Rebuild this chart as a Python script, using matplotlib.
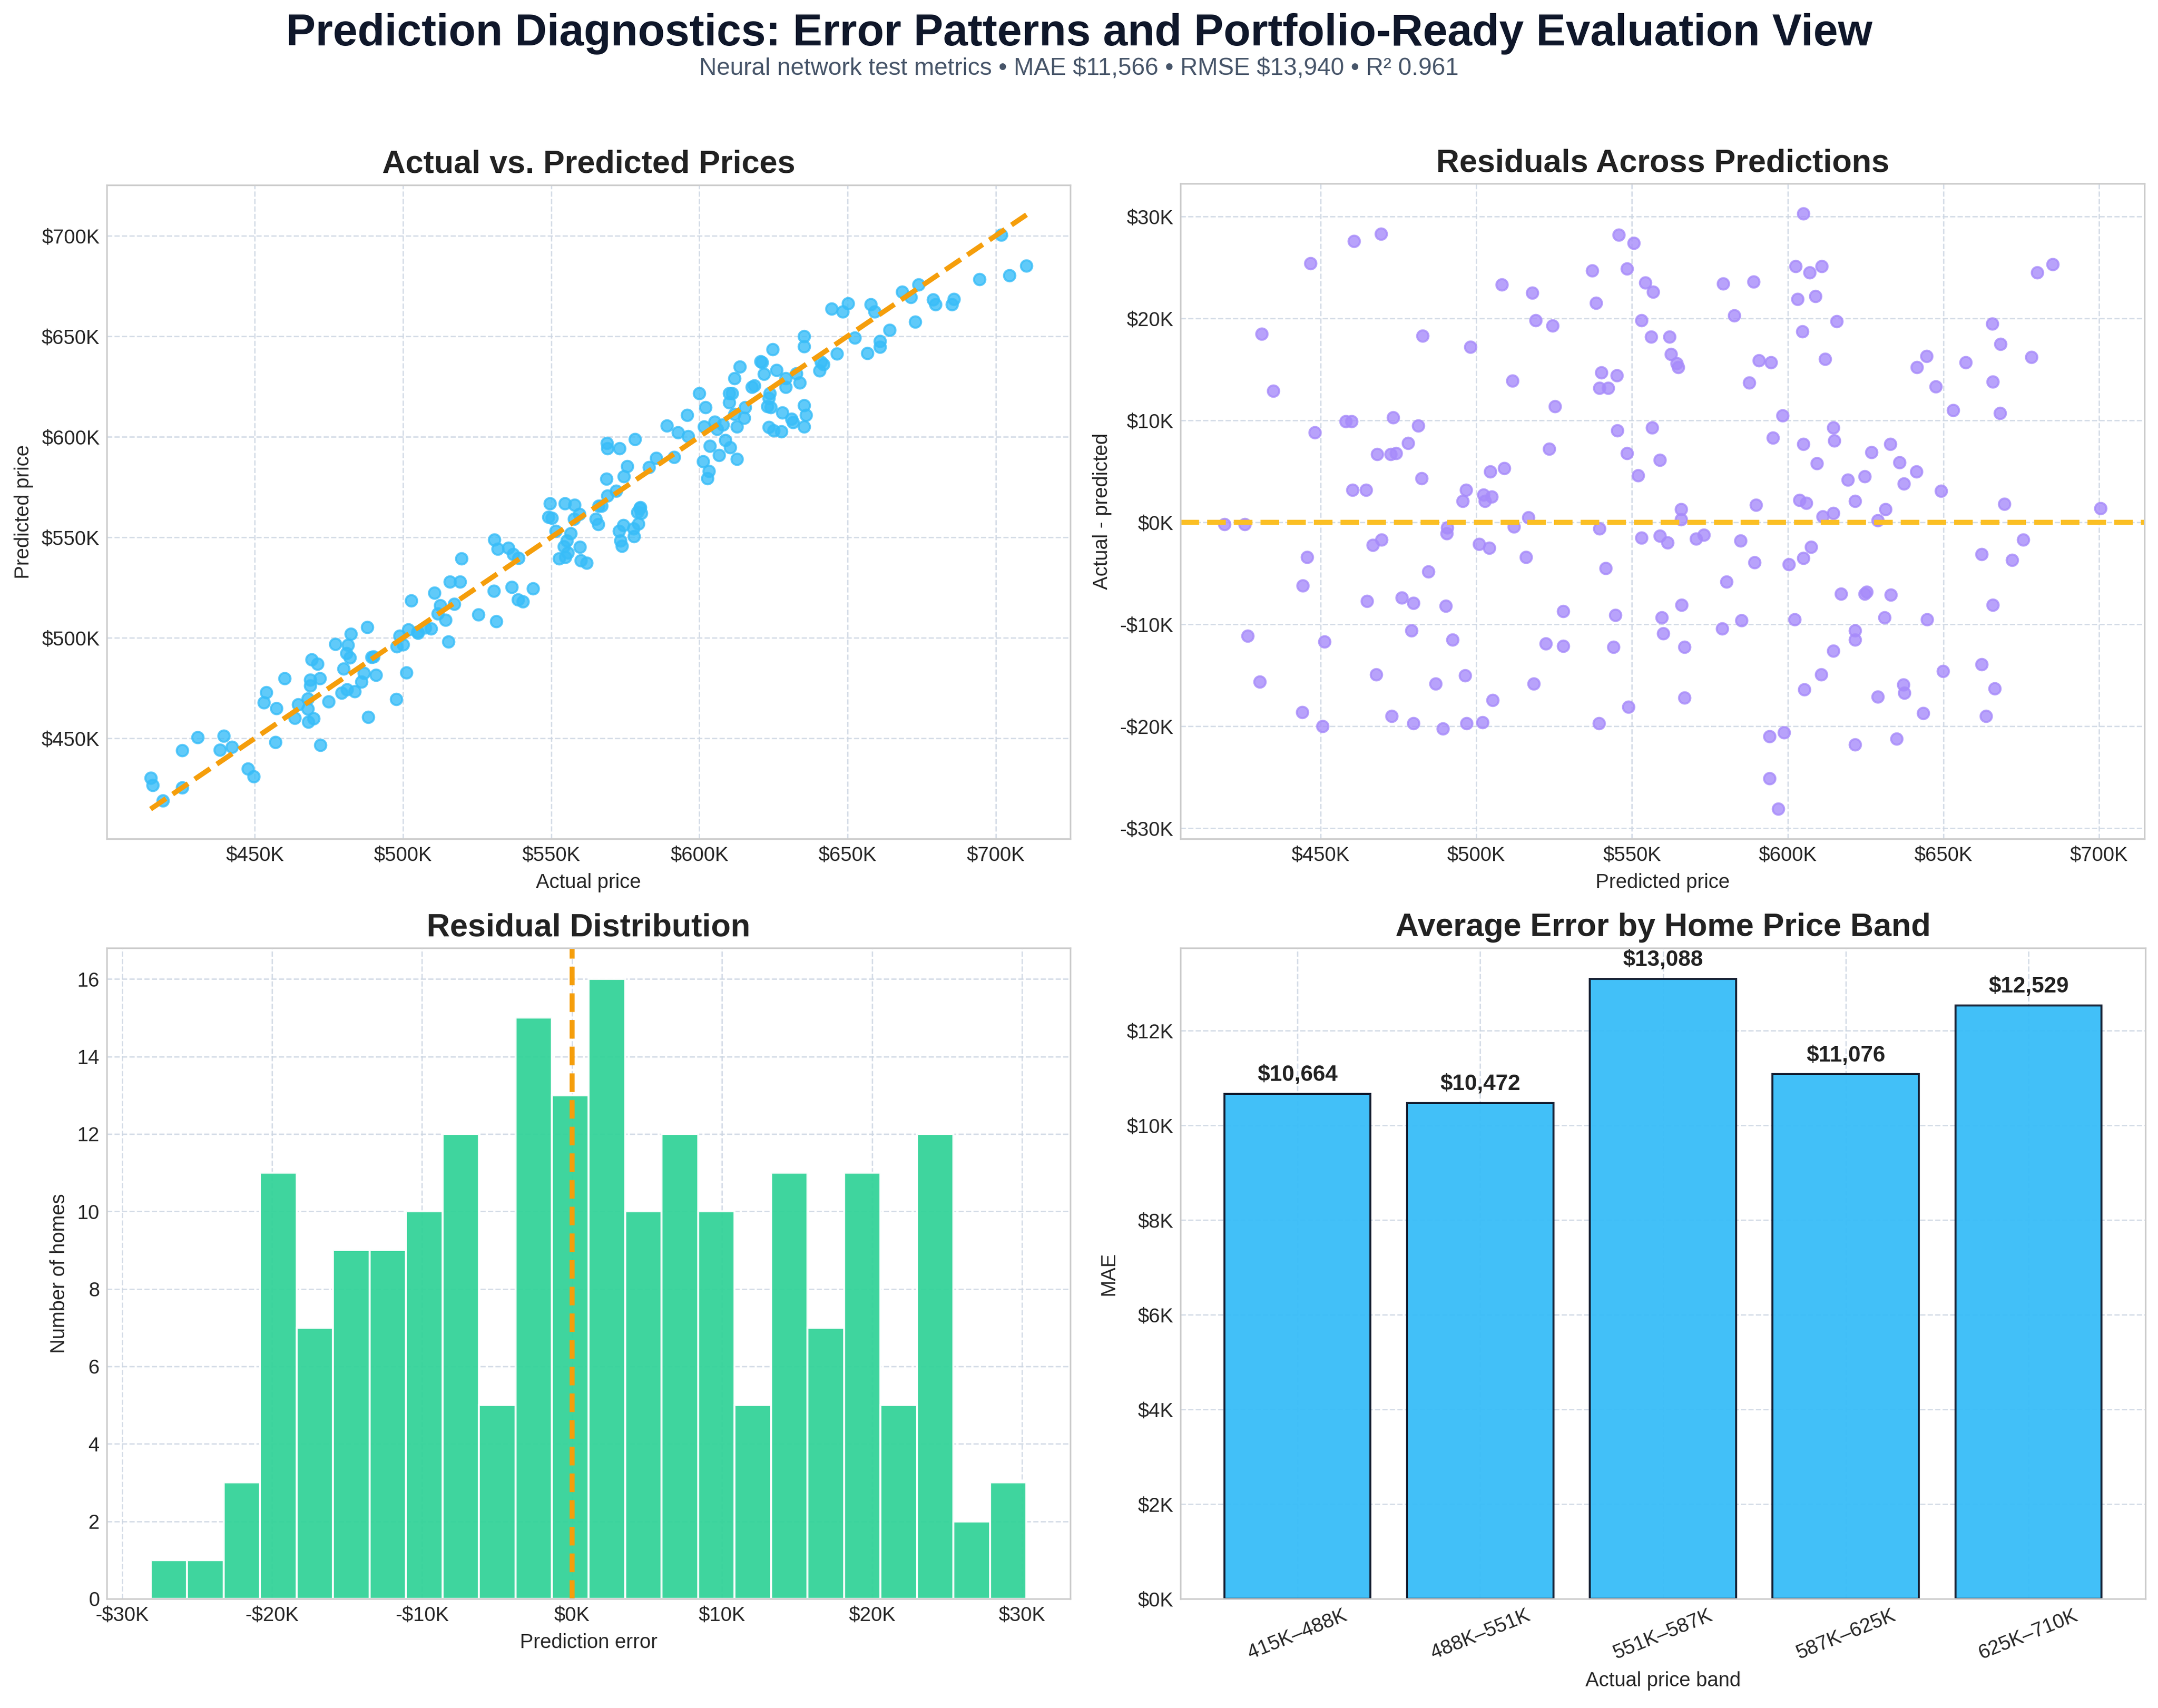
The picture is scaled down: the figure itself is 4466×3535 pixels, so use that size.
import numpy as np
import matplotlib
matplotlib.use("Agg")
import matplotlib.pyplot as plt
from matplotlib.ticker import FuncFormatter

# values, in thousands of dollars
predicted_k = [
    419.1, 425.6, 431.1, 434.8, 446.7, 448.1, 445.7, 444.3, 426.6, 430.4,
    444.1, 450.6, 451.2, 460.7, 469.4, 458.1, 459.9, 460.2, 464.6, 468.2,
    472.6, 474.2, 473.3, 478.1, 481.4, 482.8, 482.5, 466.8, 469.6, 464.9,
    476.1, 479.8, 479.2, 484.7, 467.9, 472.8, 479.8,
    486.9, 489.3, 490.2, 492.4, 490.6, 490.5, 495.7, 496.7, 498.1, 496.4,
    496.9, 502.0, 500.9, 504.2, 502.3, 502.8, 505.0, 504.5, 509.0, 508.2,
    511.6, 512.1, 516.8, 516.0, 505.3, 518.0, 519.0, 524.5, 525.3, 523.4,
    518.5, 522.4, 527.9, 527.9, 537.3, 538.5, 540.1, 539.5, 542.4, 545.2,
    545.7, 550.5, 548.4, 545.3, 548.4, 539.6, 541.6, 544.6, 544.1, 539.4,
    548.9, 554.3, 556.8, 553.1, 556.1, 556.5, 559.0, 552.0, 553.0, 559.0,
    561.5, 559.5, 560.0, 562.1, 562.5,
    564.3, 564.9, 565.7, 565.7, 566.0, 566.8, 566.8, 570.6, 573.1, 579.3,
    582.9, 580.3, 579.0, 584.8, 585.2, 589.0, 590.8, 594.7, 587.6, 589.8,
    589.4, 595.3, 598.3, 594.1, 598.8, 594.1, 596.9, 600.3, 602.2, 605.0,
    602.5, 607.1, 610.9, 603.1, 608.9, 604.7, 615.7, 612.0, 605.0, 609.3,
    603.8, 606.0, 614.7, 615.0, 611.3, 614.6, 619.3, 621.6, 624.7, 626.9,
    632.9, 635.9, 637.3, 631.4, 629.0, 607.5, 605.0, 617.1, 624.7, 625.4,
    633.1, 631.1, 621.6, 621.6, 614.6, 610.7, 605.4, 629.0, 637.1, 637.4,
    621.7, 634.9,
    641.5, 644.6, 647.6, 653.2, 657.2, 665.7, 668.4, 665.9, 668.2, 678.3,
    680.2, 685.1, 641.4, 649.3, 669.5, 700.5, 675.7, 662.3, 672.1, 665.9,
    644.8, 662.3, 649.9, 666.4, 643.5, 663.7,
]
residual_k = [
    -0.2, -0.2, 18.5, 12.9, 25.4, 8.8, -3.4, -6.2, -11.1, -15.6,
    -18.6, -20.0, -11.7, 27.6, 28.3, 9.9, 9.9, 3.2, 3.2, 6.7,
    6.7, 6.8, 10.3, 7.8, 9.5, 18.3, 4.3, -2.2, -1.7, -7.7,
    -7.4, -7.9, -10.6, -4.8, -14.9, -19.0, -19.7,
    -15.8, -20.2, -8.2, -11.5, -0.5, -1.1, 2.1, 3.2, 17.2, -15.0,
    -19.7, -19.6, -2.1, -2.5, 2.7, 2.1, 2.5, 5.0, 5.3, 23.3,
    13.9, -0.4, 0.5, -3.4, -17.4, 22.5, 19.8, 19.3, 11.4, 7.2,
    -15.8, -11.9, -8.7, -12.1, 24.7, 21.5, 14.7, 13.2, 13.2, 14.4,
    28.2, 27.4, 24.9, 9.0, 6.8, -0.6, -4.5, -9.1, -12.2, -19.7,
    -18.1, 23.5, 22.6, 19.8, 18.2, 9.3, 6.1, 4.6, -1.5, -1.3,
    -2.0, -9.3, -10.9, 18.2, 16.5,
    15.6, 15.2, 1.3, 0.3, -8.1, -12.2, -17.2, -1.6, -1.2, 23.4,
    20.3, -5.8, -10.4, -1.8, -9.6, 23.6, 15.9, 15.7, 13.7, 1.7,
    -3.9, 8.3, 10.5, -21.0, -20.6, -25.1, -28.1, -4.1, -9.5, 30.3,
    25.1, 24.5, 25.1, 21.9, 22.2, 18.7, 19.7, 16.0, 7.7, 5.8,
    2.2, 1.9, 9.3, 8.0, 0.6, 0.9, 4.2, 2.1, 4.5, 6.9,
    7.7, 5.9, 3.8, 1.3, 0.2, -2.4, -3.5, -7.0, -7.0, -6.8,
    -7.1, -9.3, -10.6, -11.5, -12.6, -14.9, -16.4, -17.1, -15.9, -16.7,
    -21.8, -21.2,
    15.2, 16.3, 13.3, 11.0, 15.7, 19.5, 17.5, 13.8, 10.7, 16.2,
    24.5, 25.3, 5.0, 3.1, 1.8, 1.4, -1.7, -3.1, -3.7, -8.1,
    -9.5, -13.9, -14.6, -16.3, -18.7, -19.0,
]

# residual histogram counts (24 bins between min and max residual)
hist_counts = [1, 1, 3, 11, 7, 9, 9, 10, 12, 5, 15, 13,
               16, 10, 12, 10, 5, 11, 7, 11, 5, 12, 2, 3]

band_labels = ["415K\u2013488K", "488K\u2013551K", "551K\u2013587K",
               "587K\u2013625K", "625K\u2013710K"]
band_mae = [10664, 10472, 13088, 11076, 12529]

predicted = np.array(predicted_k) * 1000
residuals = np.array(residual_k) * 1000
actual = predicted + residuals

plt.style.use("seaborn-v0_8-whitegrid")
plt.rcParams["font.family"] = ["Liberation Sans", "DejaVu Sans"]
plt.rcParams["axes.edgecolor"] = "#cccccc"
plt.rcParams["axes.linewidth"] = 0.8
plt.rcParams["grid.color"] = "#cbd5e1"
plt.rcParams["grid.linestyle"] = "--"
plt.rcParams["grid.linewidth"] = 0.7
plt.rcParams["grid.alpha"] = 0.8
plt.rcParams["xtick.labelsize"] = 10
plt.rcParams["ytick.labelsize"] = 10
plt.rcParams["axes.labelsize"] = 10


def k_fmt(x, pos):
    if x < 0:
        return f"-${abs(x) / 1000:.0f}K"
    return f"${x / 1000:.0f}K"


fig = plt.figure(figsize=(4466 / 300, 3535 / 300), dpi=300)
W, H = 4466, 3535
def box(x0, y0, x1, y1):
    return [x0 / W, 1 - y1 / H, (x1 - x0) / W, (y1 - y0) / H]

ax1 = fig.add_axes(box(221, 383, 2215, 1736))
ax2 = fig.add_axes(box(2443, 380, 4438, 1736))
ax3 = fig.add_axes(box(221, 1962, 2215, 3309))
ax4 = fig.add_axes(box(2443, 1962, 4440, 3309))

title_kw = dict(fontsize=16, fontweight="bold", color="#222222", pad=6)

# Actual vs predicted
ax1.scatter(actual, predicted, s=32, color="#38bdf8", alpha=0.8)
lo = min(actual.min(), predicted.min())
hi = max(actual.max(), predicted.max())
ax1.plot([lo, hi], [lo, hi], color="#f59e0b", linestyle="--", linewidth=2.5)
ax1.set_title("Actual vs. Predicted Prices", **title_kw)
ax1.set_xlabel("Actual price")
ax1.set_ylabel("Predicted price")
ax1.xaxis.set_major_formatter(FuncFormatter(k_fmt))
ax1.yaxis.set_major_formatter(FuncFormatter(k_fmt))

# Residuals
ax2.scatter(predicted, residuals, s=32, color="#a78bfa", alpha=0.8)
ax2.axhline(0, color="#fbbf24", linestyle="--", linewidth=2.5)
ax2.set_title("Residuals Across Predictions", **title_kw)
ax2.set_xlabel("Predicted price")
ax2.set_ylabel("Actual - predicted")
ax2.xaxis.set_major_formatter(FuncFormatter(k_fmt))
ax2.yaxis.set_major_formatter(FuncFormatter(k_fmt))

# Residual distribution
edges = np.linspace(residuals.min(), residuals.max(), len(hist_counts) + 1)
ax3.hist(edges[:-1], bins=edges, weights=hist_counts, color="#34d399",
         alpha=0.95, edgecolor="white", linewidth=1)
ax3.axvline(0, color="#f59e0b", linestyle="--", linewidth=2.5)
ax3.set_title("Residual Distribution", **title_kw)
ax3.set_xlabel("Prediction error")
ax3.set_ylabel("Number of homes")
ax3.xaxis.set_major_formatter(FuncFormatter(k_fmt))

# MAE by band
pos = np.arange(len(band_labels))
bars = ax4.bar(pos, band_mae, width=0.8, color="#38bdf8", alpha=0.95,
               edgecolor="#0f172a", linewidth=1)
ax4.bar_label(bars, labels=[f"${v:,.0f}" for v in band_mae], padding=4,
              fontsize=11, fontweight="bold", color="#222222")
ax4.set_ylim(0, max(band_mae) * 1.05)
ax4.set_xticks(pos)
ax4.set_xticklabels(band_labels, rotation=22)
ax4.set_title("Average Error by Home Price Band", **title_kw)
ax4.set_xlabel("Actual price band")
ax4.set_ylabel("MAE")
ax4.yaxis.set_major_formatter(FuncFormatter(k_fmt))

fig.text(0.5, 1 - 94 / H, "Prediction Diagnostics: Error Patterns and Portfolio-Ready Evaluation View",
         ha="center", va="baseline", fontsize=22, fontweight="bold", color="#0f172a")
fig.text(0.5, 1 - 155 / H,
         "Neural network test metrics \u2022 MAE \\$11,566 \u2022 RMSE \\$13,940 \u2022 R\u00b2 0.961",
         ha="center", va="baseline", fontsize=12, color="#475569")

fig.savefig("out.png", dpi=300)
